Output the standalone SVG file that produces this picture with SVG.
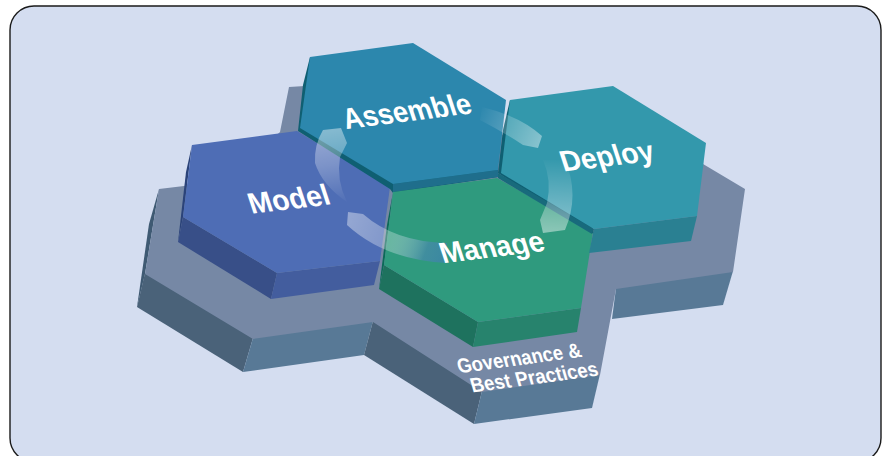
<svg xmlns="http://www.w3.org/2000/svg" width="888" height="456" viewBox="0 0 888 456">
<style>
.l{font-family:"Liberation Sans",Arial,sans-serif;font-weight:bold;fill:#fff;text-anchor:middle}
.big{font-size:27px}
.small{font-size:19px}
</style>
<defs>
<linearGradient id="g1" gradientUnits="userSpaceOnUse" x1="332" y1="130" x2="345" y2="205"><stop offset="0" stop-color="#fff" stop-opacity=".42"/><stop offset=".45" stop-color="#fff" stop-opacity=".26"/><stop offset="1" stop-color="#fff" stop-opacity="0"/></linearGradient>
<linearGradient id="g2" gradientUnits="userSpaceOnUse" x1="542" y1="142" x2="478" y2="112"><stop offset="0" stop-color="#fff" stop-opacity=".42"/><stop offset="1" stop-color="#fff" stop-opacity="0"/></linearGradient>
<linearGradient id="g3" gradientUnits="userSpaceOnUse" x1="552" y1="233" x2="555" y2="158"><stop offset="0" stop-color="#fff" stop-opacity=".45"/><stop offset="1" stop-color="#fff" stop-opacity="0"/></linearGradient>
<linearGradient id="g4" gradientUnits="userSpaceOnUse" x1="348" y1="218" x2="447" y2="255"><stop offset="0" stop-color="#fff" stop-opacity=".4"/><stop offset=".45" stop-color="#fff" stop-opacity=".28"/><stop offset=".8" stop-color="#4C86B4" stop-opacity=".6"/><stop offset="1" stop-color="#3F7FB0" stop-opacity=".7"/></linearGradient>
</defs>
<rect x="10" y="6" width="871" height="456" rx="24" fill="#D4DDF0" stroke="#1a1a1a" stroke-width="1.4"/>
<g id="base">
<polygon points="159,189 149,224 137,307 145,274" fill="#3F5A73"/>
<polygon points="137,307 145,273 253,338 243,372" fill="#4A6279"/>
<polygon points="243,372 253,338 373,321 364,355" fill="#587996"/>
<polygon points="364,355 373,321 482,391 474,424" fill="#4A6279"/>
<polygon points="474,424 482,391 600,374 592,408" fill="#587996"/>
<polygon points="612,319 616,288 733,271 723,305" fill="#587996"/>
<polygon points="289,87 400,80 500,135 600,120 703,164 745,189 733,272 616,289 600,375 482,392 373,322 253,339 145,274 159,189 184,186 230,180 280,132" fill="#7688A5"/>
<text class="l small" transform="matrix(.96,-0.13,0.3,1.05,521,365)">Governance &amp;</text>
<text class="l small" transform="matrix(.97,-0.13,0.3,1.05,536,384)">Best Practices</text>
</g>
<g id="model">
<polygon points="192,145 186,172 178,242 183,217" fill="#2B4379"/>
<polygon points="178,242 183,217 277,273 271,299" fill="#384F88"/>
<polygon points="271,299 277,273 380,261 374,285" fill="#435D9E"/>
<polygon points="192,145 297,131 390,187 380,261 277,273 183,217" fill="#4E6DB5"/>
</g>
<g id="assemble">
<polygon points="310,57 303,85 298,131 390,189 393,193 498,177 498,170" fill="#0F5F72"/>
<polygon points="393,184 498,170 498,177 393,192" fill="#1F6E8C"/>
<polygon points="310,57 413,43 506,100 498,170 393,184 300,128" fill="#2C87AD"/>
</g>
<g id="manage">
<polygon points="390,195 392,195 384,265 381,262" fill="#7688A5" fill-opacity=".7"/>
<polygon points="393,192 387,225 379,289 384,265" fill="#0B6A58"/>
<polygon points="379,289 384,265 478,322 473,347" fill="#1E725E"/>
<polygon points="473,347 478,322 581,308 577,332" fill="#27836D"/>
<polygon points="393,192 497,178 593,232 581,308 478,322 384,265" fill="#2F9A7E"/>
</g>
<g id="deploy">
<polygon points="510,100 503,130 498,173 594,234 593,229" fill="#0F5F72"/>
<polygon points="498,173 594,229 592,234 498,178" fill="#186A7C"/>
<polygon points="594,229 697,216 691,241 589,253" fill="#2A8092"/>
<polygon points="510,100 613,86 706,143 697,216 594,229 501,173" fill="#3398AC"/>
</g>
<g id="connectors">
<path d="M323,130 L341,128 347,143 340,157 Q336,180 347,202 Q322,185 315,163 Q314,145 323,130Z" fill="url(#g1)"/>
<path d="M482,107 Q520,116 542,136 L538,148 523,145 Q505,133 480,120Z" fill="url(#g2)"/>
<path d="M543,160 L565,160 Q580,195 565,230 L543,233 540,220 547,203 Q552,180 543,160Z" fill="url(#g3)"/>
<path d="M348,212 L363,214 Q395,242 447,243 L447,263 Q385,260 347,225Z" fill="url(#g4)"/>
</g>
<text class="l big" transform="matrix(1,-0.125,0.35,1.06,410,121)">Assemble</text>
<text class="l big" transform="matrix(1.03,-0.125,0.35,1.06,292,209)">Model</text>
<text class="l big" transform="matrix(1.03,-0.125,0.35,1.06,610,166)">Deploy</text>
<text class="l big" transform="matrix(1.03,-0.125,0.35,1.06,495,257)">Manage</text>
</svg>
